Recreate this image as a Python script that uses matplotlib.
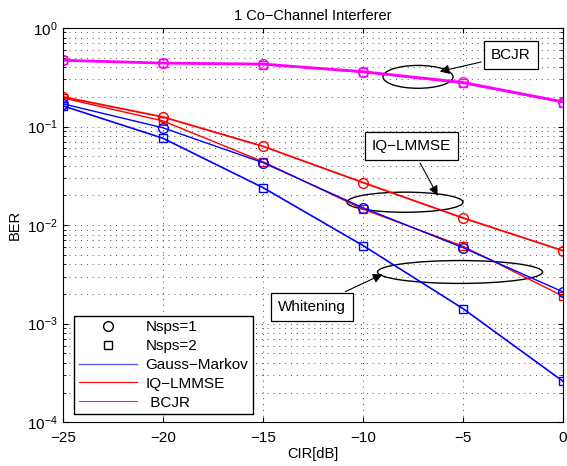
import numpy as np
import matplotlib.pyplot as plt
from matplotlib.patches import Ellipse

plt.rcParams['font.family'] = ['Liberation Sans', 'DejaVu Sans']

cir = [-25, -20, -15, -10, -5, 0]

# BER values
bcjr_n1 = [0.47, 0.44, 0.43, 0.36, 0.28, 0.178]
bcjr_n2 = [0.47, 0.44, 0.425, 0.355, 0.275, 0.175]
iq_n1 = [0.20, 0.125, 0.063, 0.027, 0.0118, 0.0055]
iq_n2 = [0.195, 0.114, 0.044, 0.0145, 0.0061, 0.0019]
gm_n1 = [0.17, 0.097, 0.043, 0.015, 0.0059, 0.0021]
gm_n2 = [0.162, 0.076, 0.024, 0.0062, 0.00142, 0.00026]

fig = plt.figure(figsize=(5.67, 4.66), dpi=100)
ax = fig.add_axes([0.111, 0.094, 0.882, 0.846])

ax.semilogy(cir, bcjr_n1, '-o', color='magenta', lw=2, mfc='none', ms=7)
ax.semilogy(cir, bcjr_n2, '-s', color='magenta', lw=1, mfc='none', ms=6)
ax.semilogy(cir, iq_n1, '-o', color='red', lw=1.3, mfc='none', ms=7)
ax.semilogy(cir, iq_n2, '-s', color='red', lw=1, mfc='none', ms=6)
ax.semilogy(cir, gm_n1, '-o', color='blue', lw=1, mfc='none', ms=7)
ax.semilogy(cir, gm_n2, '-s', color='blue', lw=1.2, mfc='none', ms=6)

ax.set_xlim(-25, 0)
ax.set_ylim(1e-4, 1)
ax.set_xticks([-25, -20, -15, -10, -5, 0])
ax.set_xticklabels(['\u221225', '\u221220', '\u221215', '\u221210', '\u22125', '0'])
grid_ls = (0, (1, 5))
ax.grid(True, which='major', ls=grid_ls, color='0.3', lw=0.7)
ax.grid(True, which='minor', axis='y', ls=grid_ls, color='0.3', lw=0.7)
ax.tick_params(which='both', direction='in', top=True, right=True, labelsize=11)
ax.tick_params(axis='x', pad=6)
ax.set_title('1 Co\u2212Channel Interferer', fontsize=10.5)
ax.set_xlabel('CIR[dB]', fontsize=10.5, labelpad=2)
ax.set_ylabel('BER', fontsize=10.5)

# legend proxies
h1, = ax.plot([], [], 'o', color='black', mfc='none', ms=7)
h2, = ax.plot([], [], 's', color='black', mfc='none', ms=6)
h3, = ax.plot([], [], '-', color='#6060ff', lw=1)
h4, = ax.plot([], [], '-', color='red', lw=0.8)
h5, = ax.plot([], [], '-', color='magenta', lw=0.8)
leg = ax.legend([h1, h2, h3, h4, h5],
                ['Nsps=1', 'Nsps=2', 'Gauss\u2212Markov', 'IQ\u2212LMMSE', ' BCJR'],
                loc='lower left', bbox_to_anchor=(0.022, 0.02), fontsize=11,
                fancybox=False, framealpha=1, edgecolor='black',
                borderpad=0.3, labelspacing=0.32, handlelength=3.8,
                handletextpad=0.6, borderaxespad=0)
leg.get_frame().set_linewidth(1)

# annotation ellipses
for cx, cy, w, h in [(0.71, 0.876, 0.14, 0.058),
                     (0.684, 0.558, 0.232, 0.051),
                     (0.794, 0.381, 0.33, 0.058)]:
    ax.add_patch(Ellipse((cx, cy), w, h, transform=ax.transAxes,
                         fill=False, ec='black', lw=1))

box = dict(boxstyle='square,pad=0.45', fc='white', ec='black', lw=0.9)
arr = dict(arrowstyle='-|>', color='black', lw=0.8, mutation_scale=14)
ax.annotate('BCJR', xy=(0.748, 0.888), xytext=(0.896, 0.931),
            xycoords='axes fraction', textcoords='axes fraction',
            ha='center', va='center', fontsize=11, bbox=box, arrowprops=arr)
ax.annotate('IQ\u2212LMMSE', xy=(0.752, 0.569), xytext=(0.696, 0.70),
            xycoords='axes fraction', textcoords='axes fraction',
            ha='center', va='center', fontsize=11, bbox=box, arrowprops=arr)
ax.annotate('Whitening', xy=(0.644, 0.378), xytext=(0.498, 0.292),
            xycoords='axes fraction', textcoords='axes fraction',
            ha='center', va='center', fontsize=11, bbox=box, arrowprops=arr)

fig.savefig('out.png', dpi=100)
